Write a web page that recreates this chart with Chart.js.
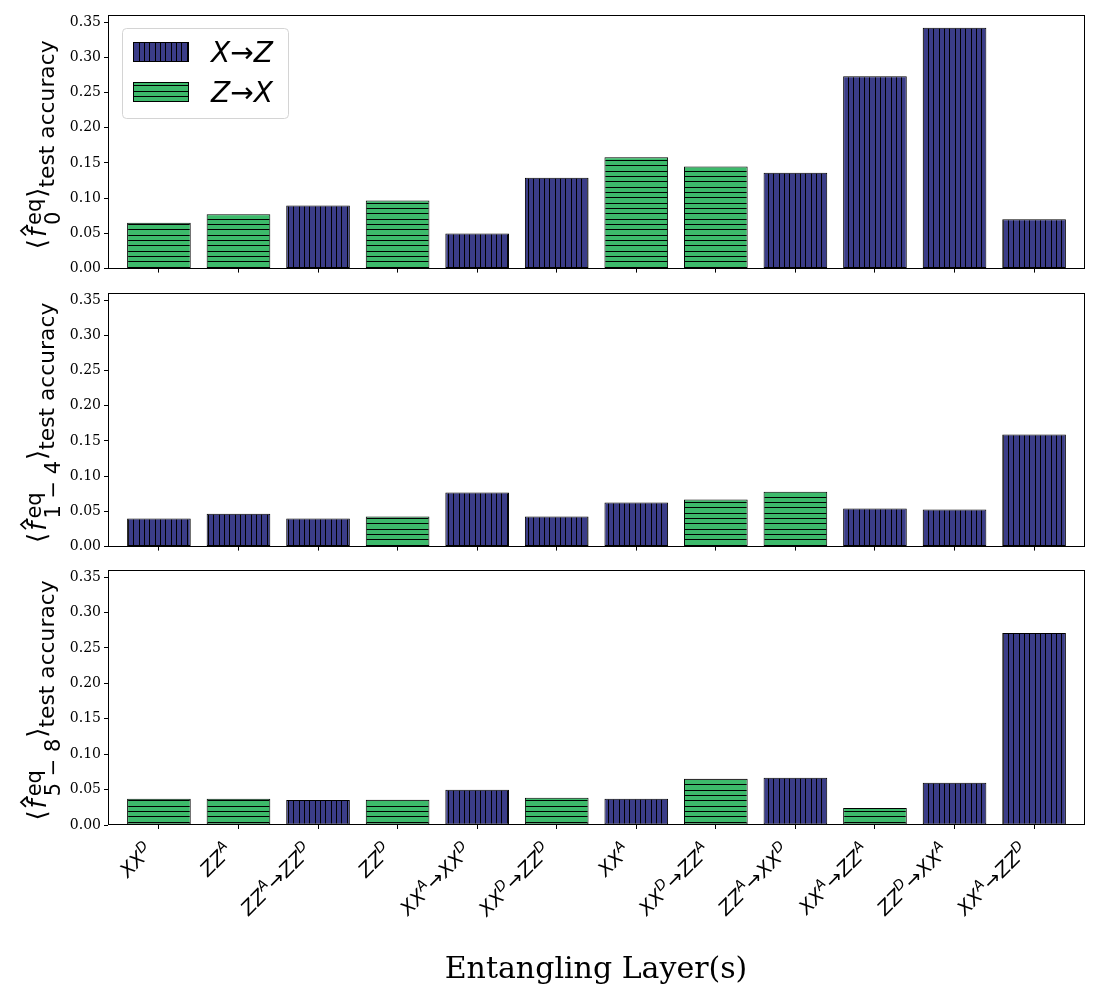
<!DOCTYPE html>
<html>
<head>
<meta charset="utf-8">
<script src="https://cdn.jsdelivr.net/npm/chart.js@4.4.0/dist/chart.umd.min.js"></script>
<style>
  html, body { margin: 0; padding: 0; background: #fff; }
  #wrap { position: relative; width: 1100px; height: 1000px; }
  canvas { position: absolute; left: 0; }
</style>
</head>
<body>
<div id="wrap">
  <canvas id="panel0" width="1100" height="280" style="top:0px"></canvas>
  <canvas id="panel1" width="1100" height="280" style="top:278px"></canvas>
  <canvas id="panel2" width="1100" height="445" style="top:555px"></canvas>
</div>
<script>
// categories (entangling layers), "^" marks the superscript
const layers = ['XX^D', 'ZZ^A', 'ZZ^A→ZZ^D', 'ZZ^D', 'XX^A→XX^D', 'XX^D→ZZ^D',
                'XX^A', 'XX^D→ZZ^A', 'ZZ^A→XX^D', 'XX^A→ZZ^A', 'ZZ^D→XX^A', 'XX^A→ZZ^D'];
const yTicks = [0, 0.05, 0.10, 0.15, 0.20, 0.25, 0.30, 0.35];

// 'XZ' = X→Z, 'ZX' = Z→X
const f0Acc = [0.065, 0.077, 0.0895, 0.0965, 0.050, 0.129, 0.158, 0.145, 0.136, 0.273, 0.342, 0.070];
const f0Dir = ['ZX', 'ZX', 'XZ', 'ZX', 'XZ', 'XZ', 'ZX', 'ZX', 'XZ', 'XZ', 'XZ', 'XZ'];

const f14Acc = [0.040, 0.0465, 0.040, 0.0426, 0.0767, 0.0426, 0.0625, 0.0668, 0.078, 0.054, 0.0526, 0.159];
const f14Dir = ['XZ', 'XZ', 'XZ', 'ZX', 'XZ', 'XZ', 'XZ', 'ZX', 'ZX', 'XZ', 'XZ', 'XZ'];

const f58Acc = [0.037, 0.037, 0.0352, 0.0355, 0.0497, 0.0384, 0.037, 0.0653, 0.0668, 0.0241, 0.0597, 0.271];
const f58Dir = ['ZX', 'ZX', 'XZ', 'ZX', 'XZ', 'ZX', 'XZ', 'ZX', 'XZ', 'ZX', 'XZ', 'XZ'];

const NAVY = '#3b3d88';
const GREEN = '#3dba6b';

function makeHatch(fill, vertical) {
  const c = document.createElement('canvas');
  c.width = 16; c.height = 16;
  const g = c.getContext('2d');
  g.fillStyle = fill;
  g.fillRect(0, 0, 16, 16);
  g.fillStyle = '#000';
  [0, 5, 11].forEach(p => {
    if (vertical) g.fillRect(p, 0, 1, 16);
    else g.fillRect(0, p, 16, 1);
  });
  return g.createPattern(c, 'repeat');
}
const navyHatch = makeHatch(NAVY, true);
const greenHatch = makeHatch(GREEN, false);

function pick(values, dirs, key) {
  return values.map((v, i) => ({ x: i, y: dirs[i] === key ? v : null }));
}

// draws a run of text pieces along a (possibly rotated) baseline
function drawRun(ctx, segs, u) {
  segs.forEach(s => {
    ctx.font = s.font;
    ctx.fillText(s.t, u, s.v);
    u += ctx.measureText(s.t).width + (s.gap || 0);
  });
  return u;
}
function runWidth(ctx, segs) {
  let w = 0;
  segs.forEach(s => { ctx.font = s.font; w += ctx.measureText(s.t).width + (s.gap || 0); });
  return w;
}

const frame = {
  id: 'frame',
  afterDraw(chart) {
    const { ctx, chartArea: a } = chart;
    ctx.save();
    ctx.strokeStyle = '#000';
    ctx.lineWidth = 1;
    ctx.strokeRect(Math.round(a.left) + 0.5, Math.round(a.top) + 0.5,
                   Math.round(a.right - a.left) - 1, Math.round(a.bottom - a.top) - 1);
    ctx.restore();
  }
};

// y label: <f-hat ^eq _sub> _test accuracy
const yLabel = {
  id: 'yLabel',
  afterDraw(chart, args, opts) {
    const { ctx, chartArea: a } = chart;
    const big = '26px "DejaVu Sans"';
    const bigIt = 'italic 26px "DejaVu Sans"';
    const small = '21px "DejaVu Sans"';
    const tail = '21.8px "DejaVu Sans"';
    ctx.save();
    ctx.fillStyle = '#000';
    ctx.strokeStyle = '#000';
    ctx.textBaseline = 'alphabetic';
    ctx.font = big;
    const wL = ctx.measureText('⟨').width;
    const wR = ctx.measureText('⟩').width;
    ctx.font = bigIt;
    const wF = ctx.measureText('f').width;
    ctx.font = small;
    const wStack = Math.max(ctx.measureText('eq').width, ctx.measureText(opts.sub).width);
    ctx.font = tail;
    const wT = ctx.measureText('test accuracy').width;
    const total = wL + 2 + wF + 3 + wStack + 1 + wR + wT;
    const cy = (a.top + a.bottom) / 2 + 3;
    ctx.translate(46, cy + total / 2);
    ctx.rotate(-Math.PI / 2);
    let u = 0;
    ctx.font = big; ctx.fillText('⟨', u, 0); u += wL + 2;
    ctx.font = bigIt; ctx.fillText('f', u, 0);
    // hat accent
    const hc = u + wF * 0.68;
    ctx.beginPath();
    ctx.moveTo(hc - 4.5, -20); ctx.lineTo(hc, -25); ctx.lineTo(hc + 4.5, -20);
    ctx.lineWidth = 1.7; ctx.stroke();
    u += wF + 3;
    ctx.font = small;
    ctx.fillText('eq', u, -5);
    ctx.fillText(opts.sub, u, 14);
    u += wStack + 1;
    ctx.font = big; ctx.fillText('⟩', u, 0); u += wR;
    ctx.font = tail; ctx.fillText('test accuracy', u, 8);
    ctx.restore();
  }
};

const legendBox = {
  id: 'legendBox',
  afterDraw(chart, args, opts) {
    if (!opts.show) return;
    const ctx = chart.ctx;
    ctx.save();
    ctx.beginPath();
    ctx.roundRect(122.5, 28.5, 166, 90, 4);
    ctx.fillStyle = 'rgba(255,255,255,0.8)';
    ctx.fill();
    ctx.strokeStyle = '#d4d4d4';
    ctx.lineWidth = 1;
    ctx.stroke();
    const rows = [
      { fill: navyHatch, a: 'X', b: 'Z', y: 42 },
      { fill: greenHatch, a: 'Z', b: 'X', y: 82 }
    ];
    rows.forEach(r => {
      ctx.fillStyle = r.fill;
      ctx.fillRect(133, r.y, 56, 20);
      ctx.strokeStyle = '#000';
      ctx.strokeRect(133.5, r.y + 0.5, 55, 19);
      ctx.fillStyle = '#000';
      ctx.textBaseline = 'alphabetic';
      drawRun(ctx, [
        { t: r.a, font: 'italic 28px "DejaVu Sans"', v: r.y + 20 },
        { t: '→', font: '28px "DejaVu Sans"', v: r.y + 20 },
        { t: r.b, font: 'italic 28px "DejaVu Sans"', v: r.y + 20 }
      ], 211);
    });
    ctx.restore();
  }
};

// rotated category labels and x-axis title on the bottom panel
const xLabels = {
  id: 'xLabels',
  afterDraw(chart, args, opts) {
    if (!opts.show) return;
    const { ctx, scales } = chart;
    const baseFont = 'italic 19.5px "DejaVu Sans"';
    const supFont = 'italic 14px "DejaVu Sans"';
    ctx.save();
    ctx.fillStyle = '#000';
    ctx.textBaseline = 'alphabetic';
    layers.forEach((label, i) => {
      const segs = [];
      label.split('→').forEach((part, k) => {
        if (k > 0) segs.push({ t: '→', font: '19.5px "DejaVu Sans"', v: 15, gap: 0.5 });
        const [base, sup] = part.split('^');
        segs.push({ t: base, font: baseFont, v: 15 });
        segs.push({ t: sup, font: supFont, v: 7, gap: 0.5 });
      });
      const x = scales.x.getPixelForValue(i);
      ctx.save();
      ctx.translate(x - 15, 286);
      ctx.rotate(-Math.PI / 4);
      drawRun(ctx, segs, -runWidth(ctx, segs));
      ctx.restore();
    });
    ctx.font = '30px "DejaVu Serif"';
    ctx.textAlign = 'center';
    ctx.fillText('Entangling Layer(s)', 596, 978 - 555);
    ctx.restore();
  }
};

function panelConfig(values, dirs, sub, xHeight, isFirst, isLast) {
  return {
    type: 'bar',
    data: {
      datasets: [
        { label: 'X→Z', data: pick(values, dirs, 'XZ'), backgroundColor: navyHatch },
        { label: 'Z→X', data: pick(values, dirs, 'ZX'), backgroundColor: greenHatch }
      ]
    },
    options: {
      responsive: false,
      animation: false,
      layout: { padding: { left: 0, right: 15, top: 15, bottom: 0 } },
      datasets: {
        bar: {
          borderColor: '#000',
          borderWidth: 1,
          borderSkipped: false,
          categoryPercentage: 0.8,
          barPercentage: 1.0
        }
      },
      scales: {
        x: {
          type: 'linear',
          stacked: true,
          offset: false,
          min: -0.64,
          max: 11.64,
          afterBuildTicks: axis => { axis.ticks = layers.map((_, i) => ({ value: i })); },
          afterFit: axis => { axis.height = xHeight; },
          ticks: { display: false },
          grid: { offset: false, drawOnChartArea: false, drawTicks: true, tickLength: 4, color: '#000', lineWidth: 1 },
          border: { display: false }
        },
        y: {
          stacked: true,
          min: 0,
          max: 0.36,
          afterBuildTicks: axis => { axis.ticks = yTicks.map(v => ({ value: v })); },
          afterFit: axis => { axis.width = 108; },
          ticks: {
            callback: v => v.toFixed(2),
            font: { family: 'DejaVu Serif', size: 14 },
            color: '#000',
            padding: 3
          },
          grid: { drawOnChartArea: false, drawTicks: true, tickLength: 4, color: '#000', lineWidth: 1 },
          border: { display: false }
        }
      },
      plugins: {
        legend: { display: false },
        tooltip: { enabled: false },
        yLabel: { sub: sub },
        legendBox: { show: isFirst },
        xLabels: { show: isLast }
      }
    },
    plugins: [frame, yLabel, legendBox, xLabels]
  };
}

new Chart(document.getElementById('panel0'), panelConfig(f0Acc, f0Dir, '0', 11, true, false));
new Chart(document.getElementById('panel1'), panelConfig(f14Acc, f14Dir, '1 − 4', 11, false, false));
new Chart(document.getElementById('panel2'), panelConfig(f58Acc, f58Dir, '5 − 8', 175, false, true));
</script>
</body>
</html>
